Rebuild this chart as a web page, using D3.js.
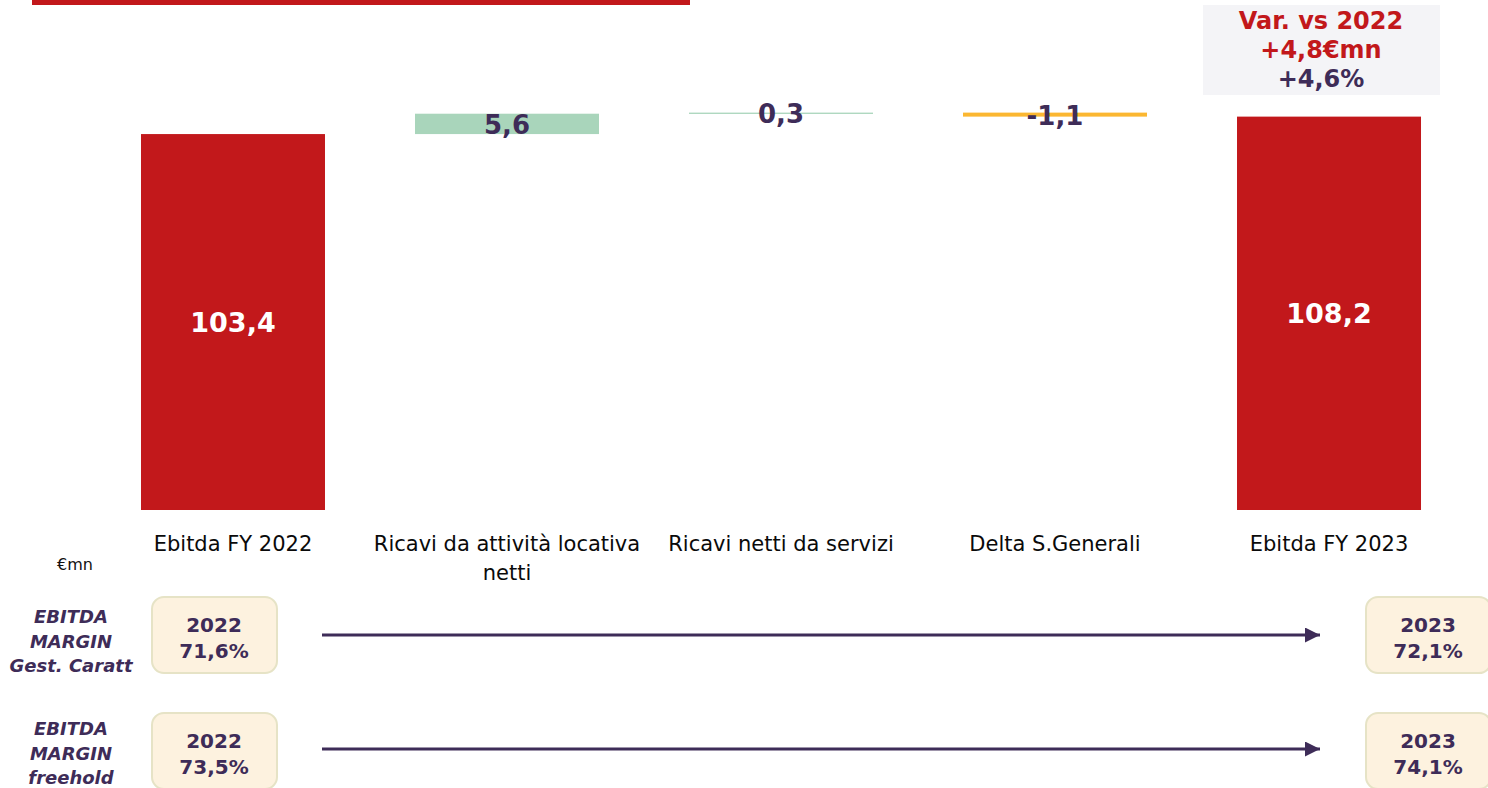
<!DOCTYPE html>
<html>
<head>
<meta charset="utf-8">
<script src="https://cdn.jsdelivr.net/npm/d3@7"></script>
<style>
  html, body { margin: 0; padding: 0; background: #ffffff; }
  svg { display: block; }
</style>
</head>
<body>
<svg id="chart" width="1488" height="788"></svg>
<script>
// ---- data ----
const categories = ["Ebitda FY 2022", "Ricavi da attività locativa netti", "Ricavi netti da servizi", "Delta S.Generali", "Ebitda FY 2023"];
const values = [103.4, 5.6, 0.3, -1.1, 108.2];
const kinds = ["total", "delta", "delta", "delta", "total"];
const valueLabels = ["103,4", "5,6", "0,3", "-1,1", "108,2"];
const unitLabel = "€mn";
const varLines = ["Var. vs 2022", "+4,8€mn", "+4,6%"];
const marginNames = [["EBITDA", "MARGIN", "Gest. Caratt"], ["EBITDA", "MARGIN", "freehold"]];
const marginFrom = [["2022", "71,6%"], ["2022", "73,5%"]];
const marginTo = [["2023", "72,1%"], ["2023", "74,1%"]];

const RED = "#c2181b", GREEN = "#a9d5bb", YELLOW = "#fbb731", PURPLE = "#3e2c58";

const svg = d3.select("#chart");

// decorative top rule
svg.append("rect").attr("x", 32).attr("y", 0).attr("width", 658).attr("height", 5).attr("fill", RED);

const x = d3.scaleBand().domain(categories).range([96, 1466]).paddingInner(0.3285).paddingOuter(0.1642);
const y = d3.scaleLinear().domain([0, 140]).range([510, 1]);

// waterfall
let run = 0;
const bars = categories.map((c, i) => {
  let y0, y1;
  if (kinds[i] === "total") { y0 = 0; y1 = values[i]; run = values[i]; }
  else { y0 = run; y1 = run + values[i]; run = y1; }
  return { c, i, lo: Math.min(y0, y1), hi: Math.max(y0, y1), v: values[i], kind: kinds[i] };
});
const colorOf = d => d.kind === "total" ? RED : (d.v >= 0 ? GREEN : YELLOW);

svg.append("g").selectAll("rect").data(bars).join("rect")
  .attr("x", d => x(d.c))
  .attr("width", x.bandwidth())
  .attr("y", d => y(d.hi))
  .attr("height", d => Math.max(1.3, y(d.lo) - y(d.hi)))
  .attr("fill", colorOf);

svg.append("g").selectAll("text").data(bars).join("text")
  .attr("x", d => x(d.c) + x.bandwidth() / 2)
  .attr("y", d => (y(d.hi) + y(d.lo)) / 2 + (d.kind === "total" ? 0 : 1))
  .attr("text-anchor", "middle")
  .attr("dominant-baseline", "central")
  .attr("font-family", "DejaVu Sans, Verdana, sans-serif")
  .attr("font-weight", "bold")
  .attr("font-size", d => d.kind === "total" ? 27 : 26)
  .attr("fill", d => d.kind === "total" ? "#ffffff" : PURPLE)
  .text((d) => valueLabels[d.i]);

// category axis
const xAxis = svg.append("g").attr("transform", "translate(0,510)")
  .call(d3.axisBottom(x).tickSize(0).tickPadding(41));
xAxis.select(".domain").remove();
xAxis.selectAll("text")
  .attr("font-family", "DejaVu Sans, Verdana, sans-serif")
  .attr("font-size", 21)
  .attr("fill", "#0a0a0a")
  .attr("dy", 0)
  .each(function() {
    const t = d3.select(this);
    const words = t.text().split(" ");
    const maxW = x.step();
    t.text(null);
    let line = [], tspan = t.append("tspan").attr("x", 0);
    words.forEach(w => {
      line.push(w);
      tspan.text(line.join(" "));
      if (tspan.node().getComputedTextLength() > maxW && line.length > 1) {
        line.pop();
        tspan.text(line.join(" "));
        line = [w];
        tspan = t.append("tspan").attr("x", 0).attr("dy", 29).text(w);
      }
    });
  });

svg.append("text").attr("x", 57).attr("y", 570)
  .attr("font-family", "DejaVu Sans, Verdana, sans-serif").attr("font-size", 16).attr("fill", "#111")
  .text(unitLabel);

// variation box
svg.append("rect").attr("x", 1203).attr("y", 5).attr("width", 237).attr("height", 90).attr("fill", "#f4f4f7");
svg.append("g").selectAll("text").data(varLines).join("text")
  .attr("x", 1321).attr("y", (d, i) => 29 + i * 29)
  .attr("text-anchor", "middle")
  .attr("font-family", "DejaVu Sans, Verdana, sans-serif").attr("font-weight", "bold").attr("font-size", 24)
  .attr("fill", (d, i) => i < 2 ? RED : PURPLE)
  .text(d => d);

// margin rows
const defs = svg.append("defs");
defs.append("marker").attr("id", "arr").attr("viewBox", "0 0 10 10").attr("refX", 10).attr("refY", 5)
  .attr("markerWidth", 5.5).attr("markerHeight", 5).attr("markerUnits", "strokeWidth").attr("orient", "auto")
  .append("path").attr("d", "M0,0 L10,5 L0,10 Z").attr("fill", PURPLE);

const rowTop = [597, 713];
const rowArrowY = [635, 749];
const rowLabelBase = [623, 735];

rowTop.forEach((top, r) => {
  const g = svg.append("g");
  g.selectAll("text.name").data(marginNames[r]).join("text").attr("class", "name")
    .attr("x", 71).attr("y", (d, i) => rowLabelBase[r] + i * 24.5)
    .attr("text-anchor", "middle")
    .attr("font-family", "DejaVu Sans, Verdana, sans-serif").attr("font-weight", "bold").attr("font-style", "italic")
    .attr("font-size", 18).attr("fill", PURPLE)
    .text(d => d);

  [[152, marginFrom[r]], [1366, marginTo[r]]].forEach(([bx, lines]) => {
    g.append("rect").attr("x", bx).attr("y", top).attr("width", 125).attr("height", 76)
      .attr("rx", 12).attr("ry", 12)
      .attr("fill", "#fdf2df").attr("stroke", "#e6e3c6").attr("stroke-width", 2);
    g.append("g").selectAll("text").data(lines).join("text")
      .attr("x", bx + 62).attr("y", (d, i) => top + 35 + i * 26)
      .attr("text-anchor", "middle")
      .attr("font-family", "DejaVu Sans, Verdana, sans-serif").attr("font-weight", "bold")
      .attr("font-size", 20).attr("fill", PURPLE)
      .text(d => d);
  });

  g.append("line").attr("x1", 322).attr("x2", 1320).attr("y1", rowArrowY[r]).attr("y2", rowArrowY[r])
    .attr("stroke", PURPLE).attr("stroke-width", 3).attr("marker-end", "url(#arr)");
});
</script>
</body>
</html>
